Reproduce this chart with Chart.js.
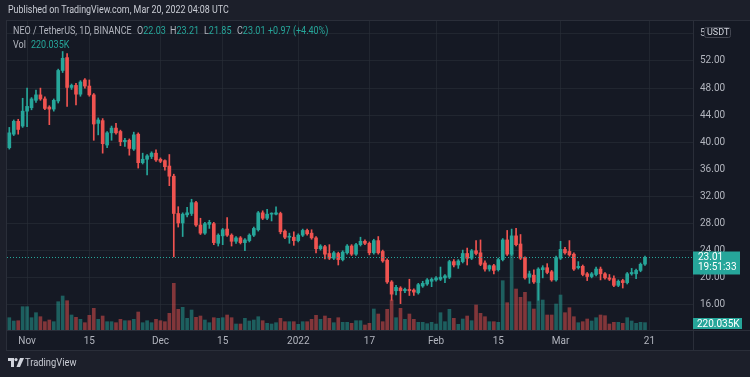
<!DOCTYPE html>
<html>
<head>
<meta charset="utf-8">
<title>NEO / TetherUS, 1D, BINANCE</title>
<script src="https://cdn.jsdelivr.net/npm/chart.js"></script>
<style>
    body { margin: 0; background: #1c1f2a; }
    .wrap { position: relative; width: 750px; height: 377px; overflow: hidden; font-family: Roboto, "Noto Sans", sans-serif; }
    #chart { position: absolute; left: 0; top: 0; }
    .txt { position: absolute; white-space: nowrap; transform-origin: left top; }
    .pub { left: 8px; top: 4px; font-size: 10px; color: #c9ccd4; transform: scaleX(0.89); }
    .lg { top: 25px; font-size: 10px; color: #b2b5be; transform: scaleX(0.9); }
    .up { color: #26a69a; }
    .brand { left: 25px; top: 356px; font-size: 11px; color: #c9ccd4; transform: scaleX(0.85); }
    .logo { position: absolute; left: 8px; top: 358px; }
</style>
</head>
<body>
<div class="wrap">
    <canvas id="chart" width="750" height="377"></canvas>
    <div class="txt pub">Published on TradingView.com, Mar 20, 2022 04:08 UTC</div>
    <div class="txt lg" style="left:13px">NEO / TetherUS, 1D, BINANCE</div>
    <div class="txt lg" style="left:137px">O<span class="up">22.03</span></div>
    <div class="txt lg" style="left:170px">H<span class="up">23.21</span></div>
    <div class="txt lg" style="left:204px">L<span class="up">21.85</span></div>
    <div class="txt lg" style="left:237px">C<span class="up">23.01</span></div>
    <div class="txt lg up" style="left:268px">+0.97 (+4.40%)</div>
    <div class="txt lg" style="left:13px; top:39px">Vol</div>
    <div class="txt lg up" style="left:31px; top:39px">220.035K</div>
    <svg class="logo" width="16" height="9" viewBox="0 0 16 9">
        <path d="M0 0h6v9h-3v-6h-3z" fill="#d1d4dc"/>
        <circle cx="8" cy="1.6" r="1.6" fill="#d1d4dc"/>
        <path d="M12 0h4l-4 9h-3.5z" fill="#d1d4dc"/>
    </svg>
    <div class="txt brand">TradingView</div>
</div>
<script>
// daily candles, Oct 28 2021 .. Mar 20 2022 (index 0 = Oct 28)
const openP = [39.2,41.2,43.1,42.4,44.6,45.1,46.2,47.0,46.4,45.2,44.9,46.1,50.6,52.5,48.1,48.4,47.1,49.2,48.3,47.0,
    42.8,43.2,39.6,41.4,42.1,41.6,40.1,40.3,39.0,41.2,37.0,37.5,37.9,38.4,37.5,37.3,36.5,35.0,29.5,28.1,
    29.3,29.5,31.1,27.8,26.6,27.9,28.0,25.1,26.2,27.2,26.3,25.4,25.9,25.2,25.5,26.3,27.1,29.6,28.8,29.4,
    29.4,29.5,26.9,26.0,26.0,25.5,26.3,27.0,26.6,25.9,24.3,24.6,23.6,22.9,23.6,22.7,23.7,24.7,23.5,24.9,
    25.4,25.1,23.7,25.5,23.9,22.6,19.4,18.1,18.5,18.1,18.3,18.2,17.8,18.8,19.1,19.5,19.7,19.8,20.0,20.1,
    22.4,21.9,22.4,23.6,22.9,24.0,23.7,22.2,21.3,21.8,21.2,22.7,25.6,23.5,26.2,25.0,22.9,20.1,20.4,19.3,
    21.2,21.5,20.9,19.7,22.9,24.2,23.9,23.5,21.5,21.7,20.6,20.2,20.5,21.3,20.6,20.0,19.9,18.9,19.6,19.3,
    20.6,20.6,21.1,22.03];
const highP = [42.2,43.3,43.4,46.5,48.0,46.6,47.7,48.0,46.7,45.4,46.4,50.8,53.4,53.1,48.6,48.7,49.1,49.4,49.2,47.2,
    43.6,43.5,41.6,42.4,42.8,41.8,40.6,40.5,41.5,41.4,38.4,38.2,38.6,38.9,37.7,37.4,38.2,35.3,30.5,29.6,
    30.4,31.6,31.3,28.8,28.2,28.5,28.2,26.5,27.3,28.9,26.5,26.1,26.1,25.8,26.5,27.5,29.8,29.9,30.1,29.6,
    30.5,29.7,27.1,26.6,26.8,26.5,27.2,27.2,27.1,26.1,24.9,24.8,24.9,23.9,23.8,24.0,24.9,24.9,25.1,26.0,
    25.6,25.3,25.7,26.1,24.1,22.8,19.6,18.9,18.7,18.5,19.8,18.4,19.2,19.5,19.9,20.0,20.2,21.6,20.5,22.6,
    22.7,22.7,24.1,24.4,24.2,25.5,25.6,22.5,21.9,22.0,22.9,25.8,27.0,27.2,27.3,26.4,23.1,21.0,21.2,21.5,
    21.8,22.1,21.1,23.2,25.4,24.5,25.5,23.7,22.4,21.9,20.8,20.8,21.6,21.6,20.8,20.5,20.3,19.7,19.8,20.8,
    21.4,21.3,22.2,23.21];
const lowP = [39.0,41.0,41.2,42.2,42.3,44.8,45.9,46.2,44.8,42.6,44.6,45.8,50.3,45.3,47.8,45.5,46.8,48.0,46.8,40.3,
    41.1,38.4,39.2,40.3,41.2,39.5,39.4,38.1,38.8,36.2,36.8,35.2,37.6,37.2,37.0,35.9,33.6,23.1,27.5,26.1,
    29.0,29.2,27.6,26.4,26.4,27.3,24.9,24.7,24.9,26.1,24.7,25.1,25.0,24.0,25.3,26.1,26.9,28.6,28.6,28.4,
    29.3,26.5,25.8,25.1,24.8,25.3,26.1,26.3,25.7,23.7,24.1,22.8,22.7,22.7,21.9,22.5,23.5,23.3,23.3,24.7,
    24.9,23.4,23.5,23.5,22.3,19.2,16.7,17.5,16.2,17.8,17.4,17.4,17.6,18.6,18.9,18.7,19.5,19.6,19.3,19.9,
    21.6,21.4,22.2,21.9,22.7,23.4,21.8,21.0,21.0,20.6,21.0,22.5,23.3,23.3,24.7,22.7,19.8,19.2,19.2,16.7,
    20.0,20.6,19.5,19.5,22.7,23.5,23.2,21.1,21.3,20.3,19.6,20.0,20.3,19.7,19.8,19.6,18.7,18.7,18.5,19.1,
    20.4,19.9,20.9,21.85];
const closeP = [41.4,43.1,41.9,44.6,45.3,46.4,47.0,46.4,45.0,44.9,46.2,50.6,52.4,48.1,48.4,47.1,48.9,48.3,47.0,42.7,
    43.3,39.8,41.4,42.1,41.4,40.1,40.3,39.1,41.1,37.0,37.5,38.0,38.4,37.4,37.2,36.4,35.0,29.5,28.1,29.4,
    29.6,31.1,27.8,26.6,28.0,28.2,25.2,26.3,27.1,26.3,25.4,25.9,25.2,25.6,26.3,27.3,29.6,28.8,29.4,29.5,
    29.6,26.8,26.0,26.1,25.5,26.3,27.0,26.5,25.9,24.3,24.7,23.5,22.9,23.7,22.7,23.8,24.7,23.5,24.9,25.4,
    25.1,23.7,25.5,23.7,22.5,19.4,17.6,18.6,18.1,18.3,18.1,17.9,19.0,19.2,19.7,19.8,20.0,20.1,20.3,22.4,
    21.9,22.5,23.6,22.9,24.0,23.6,22.0,21.3,21.8,21.1,22.7,25.6,23.5,26.2,24.9,22.9,20.0,20.6,19.4,21.3,
    21.5,20.8,19.7,23.0,24.2,23.7,23.4,21.3,21.7,20.5,20.2,20.6,21.3,20.6,20.0,19.8,18.9,19.5,19.3,20.6,
    20.8,21.1,22.0,23.01];
// volume in thousands of NEO
const volumeK = [369,270,279,699,699,369,519,399,249,300,249,849,1020,879,450,381,321,219,441,651,
    321,420,249,249,219,321,279,279,321,540,219,279,219,321,279,249,501,1401,621,681,
    351,600,381,420,300,219,369,351,369,450,369,180,180,351,270,300,399,279,201,180,
    219,351,249,249,249,171,249,249,321,441,321,420,351,219,369,231,231,201,279,279,
    150,201,630,480,249,621,900,369,651,321,480,321,231,231,189,231,180,519,249,621,
    351,171,330,420,279,750,501,399,249,249,231,1479,819,2310,1230,981,1131,849,630,1410,
    900,450,450,780,1050,519,669,399,219,249,330,270,369,450,429,180,231,231,201,369,
    270,201,231,220.035];

const xTickIdx = [4, 18, 34, 48, 65, 81, 96, 110, 124, 144];
const xTickText = ['Nov', '15', 'Dec', '15', '2022', '17', 'Feb', '15', 'Mar', '21'];
const priceTicks = [16, 20, 24, 28, 32, 36, 40, 44, 48, 52, 56];

const UP = '#26a69a', DOWN = '#ef5350';
const UP_VOL = 'rgba(38,166,154,0.5)', DOWN_VOL = 'rgba(239,83,80,0.5)';
const lastClose = closeP[closeP.length - 1];

const isUp = i => closeP[i] >= openP[i];
const bodies = openP.map((o, i) => ({ x: i, y: [o, closeP[i]] }));
const wicks = openP.map((o, i) => ({ x: i, y: [lowP[i], highP[i]] }));
const vols = volumeK.map((v, i) => ({ x: i, y: v }));

const frame = {
    id: 'frame',
    beforeDraw(chart) {
        const c = chart.ctx, a = chart.chartArea;
        c.save();
        c.fillStyle = '#151924';
        c.fillRect(a.left, a.top, 750 - a.left, 350 - a.top);
        c.restore();
    },
    afterDraw(chart) {
        const c = chart.ctx, a = chart.chartArea;
        const y = chart.scales.y;
        c.save();
        // current price dotted line
        const py = Math.round(y.getPixelForValue(lastClose)) + 0.5;
        c.strokeStyle = UP;
        c.setLineDash([1, 2]);
        c.beginPath(); c.moveTo(a.left, py); c.lineTo(a.right, py); c.stroke();
        c.setLineDash([]);
        // frame lines
        c.strokeStyle = '#2a2e39';
        c.lineWidth = 1;
        c.strokeRect(a.left - 0.5, a.top - 0.5, 750 - a.left + 1, 350 - a.top + 1);
        c.beginPath(); c.moveTo(a.right + 0.5, a.top); c.lineTo(a.right + 0.5, 350); c.stroke();
        c.beginPath(); c.moveTo(a.left, a.bottom + 0.5); c.lineTo(750, a.bottom + 0.5); c.stroke();
        // currency box
        c.fillStyle = '#151924';
        c.fillRect(704, 27, 27, 11);
        c.strokeStyle = '#434651';
        c.beginPath(); c.roundRect(704.5, 27.5, 26, 10, 2); c.stroke();
        c.fillStyle = '#d1d4dc';
        c.font = '9px Roboto';
        c.textBaseline = 'middle';
        c.fillText('USDT', 707, 33);
        // last price tag
        c.fillStyle = UP;
        c.fillRect(a.right, py - 6, 47, 23);
        c.fillStyle = '#ffffff';
        c.font = '10px Roboto';
        c.fillText(lastClose.toFixed(2), 698, py);
        c.fillText('19:51:33', 698, py + 10);
        // volume tag
        c.fillStyle = UP;
        c.fillRect(a.right, 318, 49, 11);
        c.fillStyle = '#ffffff';
        c.fillText(volumeK[volumeK.length - 1].toFixed(3) + 'K', 697, 324);
        c.restore();
    }
};

new Chart(document.getElementById('chart'), {
    type: 'bar',
    data: {
        datasets: [
            {
                label: 'body', data: bodies, order: 1, yAxisID: 'y', grouped: false,
                barThickness: 3, minBarLength: 1,
                backgroundColor: bodies.map((d, i) => isUp(i) ? UP : DOWN)
            },
            {
                label: 'wick', data: wicks, order: 2, yAxisID: 'y', grouped: false,
                barThickness: 1,
                backgroundColor: wicks.map((d, i) => isUp(i) ? UP : DOWN)
            },
            {
                label: 'volume', data: vols, order: 3, yAxisID: 'v', grouped: false,
                barThickness: 3,
                backgroundColor: vols.map((d, i) => isUp(i) ? UP_VOL : DOWN_VOL)
            }
        ]
    },
    options: {
        responsive: false,
        animation: false,
        layout: { padding: { left: 7, top: 21, right: 0, bottom: 27 } },
        plugins: { legend: { display: false }, tooltip: { enabled: false } },
        scales: {
            x: {
                type: 'linear',
                offset: false,
                min: -0.52,
                max: 153.8,
                afterBuildTicks: s => { s.ticks = xTickIdx.map(v => ({ value: v })); },
                afterFit: s => { s.height = 20; },
                grid: { color: 'rgba(42,46,57,0.6)', drawTicks: false, offset: false },
                border: { display: false },
                ticks: {
                    color: '#b2b5be',
                    font: { family: 'Roboto', size: 10 },
                    padding: 5,
                    maxRotation: 0,
                    autoSkip: false,
                    callback: (v, i) => xTickText[i]
                }
            },
            y: {
                position: 'right',
                min: 12.31,
                max: 57.9,
                afterBuildTicks: s => { s.ticks = priceTicks.map(v => ({ value: v })); },
                afterFit: s => { s.width = 57; },
                grid: { color: 'rgba(42,46,57,0.6)', drawTicks: false },
                border: { display: false },
                ticks: {
                    color: '#b2b5be',
                    font: { family: 'Roboto', size: 10 },
                    padding: 7,
                    callback: v => v.toFixed(2)
                }
            },
            v: {
                display: false,
                min: 0,
                max: 9270
            }
        }
    },
    plugins: [frame]
});
</script>
</body>
</html>
